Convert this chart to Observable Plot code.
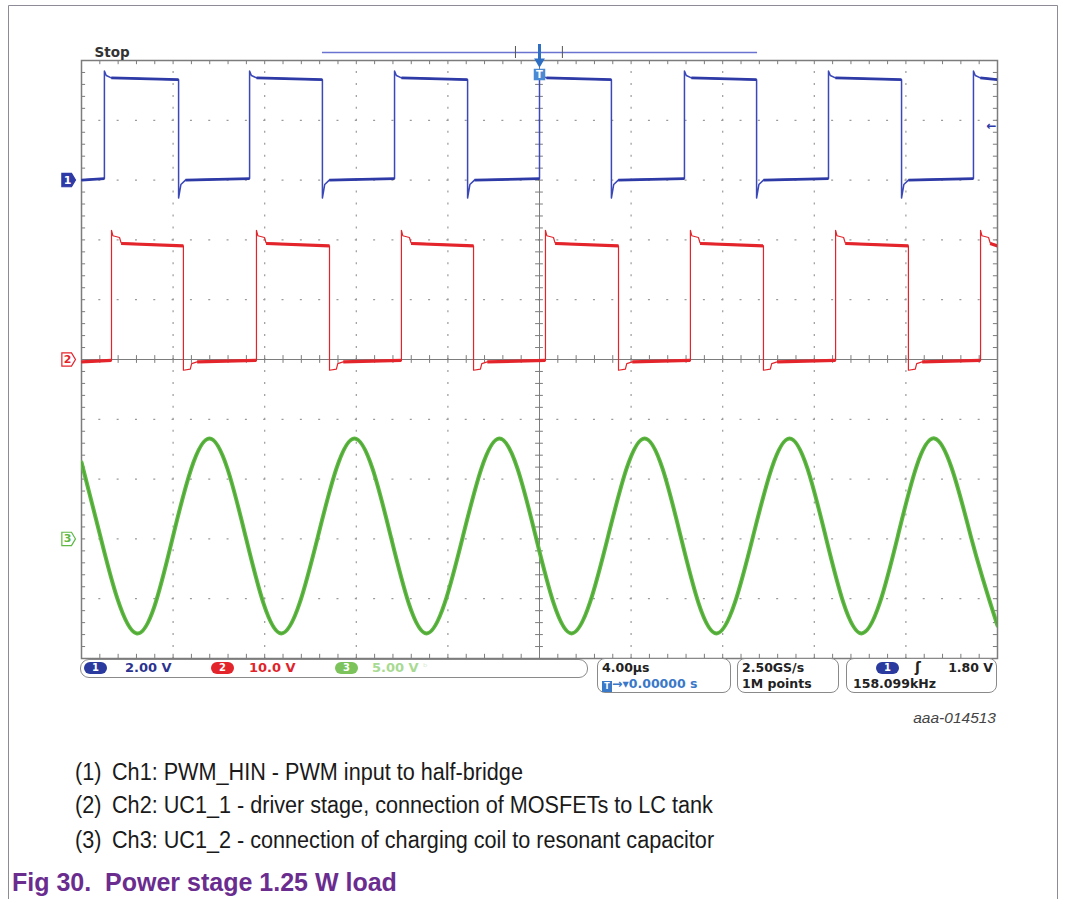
<!DOCTYPE html>
<html>
<head>
<meta charset="utf-8">
<script src="https://cdn.jsdelivr.net/npm/d3@7"></script>
<script src="https://cdn.jsdelivr.net/npm/@observablehq/plot@0.6"></script>
<style>
  html, body { margin: 0; padding: 0; background: #fff; }
  #page { position: relative; width: 1065px; height: 899px; overflow: hidden; background: #fff; }
  #page > svg, #chart svg { position: absolute; left: 0; top: 0; }
  .abs { position: absolute; white-space: nowrap; }
  .sbox { position: absolute; border: 1.5px solid #8a8a8a; border-radius: 8px; background: #fff; box-sizing: border-box; }
  .stxt { position: absolute; font-family: "DejaVu Sans", Verdana, sans-serif; font-size: 12.5px; font-weight: bold; white-space: nowrap; line-height: 14px; }
  .pill { position: absolute; height: 12px; border-radius: 6px; color: #fff; font-family: "DejaVu Sans", sans-serif; font-size: 10px; font-weight: bold; text-align: center; line-height: 12px; }
  .cap { position: absolute; font-family: "Liberation Sans", Arial, sans-serif; color: #1a1a1a; white-space: nowrap; transform-origin: 0 0; }
</style>
</head>
<body>
<div id="page">
  <div id="chart"></div>
</div>
<script>
// ---------- data ----------
// time axis: 4.00 µs/div, 10 divisions, trigger at 0
const timeTicks = [-20, -16, -12, -8, -4, 0, 4, 8, 12, 16, 20];   // µs
const channels = ["1", "2", "3"];
const voltsPerDiv = [2, 10, 5];          // V/div for Ch1, Ch2, Ch3
const groundDiv = [3, 0, -3];            // ground marker position (divisions)
const channelColors = ["#2e3aa6", "#e3242b", "#5fb843"];

// Ch1 : PWM_HIN (square wave)
const ch1Rise = [-19.0, -12.66, -6.33, 0.0, 6.33, 12.62, 18.95];   // µs
const ch1Fall = [-15.76, -9.48, -3.14, 3.14, 9.48, 15.81];          // µs
const ch1RiseShape = [[0, 3.65], [0.08, 3.5], [0.3, 3.42]];         // [dt µs, V] after rising edge
const ch1FallShape = [[0, -0.6], [0.1, -0.15], [0.3, 0.0]];         // [dt µs, V] after falling edge
const ch1High = [3.42, 3.36];   // start / end of high plateau (V)
const ch1Low = [0.0, 0.05];     // start / end of low plateau (V)

// Ch2 : UC1_1 (half-bridge output)
const ch2Rise = [-18.69, -12.36, -6.03, 0.26, 6.59, 12.93, 19.26];
const ch2Fall = [-15.55, -9.17, -2.88, 3.45, 9.78, 16.11];
const ch2RiseShape = [[0, 21.6], [0.06, 20.7], [0.35, 20.4], [0.42, 19.5]];
const ch2FallShape = [[0, -1.8], [0.3, -1.6], [0.36, -0.7], [0.6, -0.4]];
const ch2High = [19.4, 19.0];
const ch2Low = [-0.4, -0.15];

// Ch3 : UC1_2 (resonant capacitor voltage) — peaks, troughs and mid crossings
const ch3T = [-20, -19.18, -17.6, -16.0, -14.41, -12.84, -11.27, -9.67, -8.08, -6.5, -4.93, -3.34, -1.75,
              -0.17, 1.4, 3.0, 4.59, 6.16, 7.73, 9.33, 10.92, 12.49, 14.06, 15.65, 17.25, 18.83, 20];
const ch3V = [6.4, 0.25, -7.9, 0.25, 8.4, 0.25, -7.9, 0.25, 8.4, 0.25, -7.9, 0.25, 8.4,
              0.25, -7.9, 0.25, 8.4, 0.25, -7.9, 0.25, 8.4, 0.25, -7.9, 0.25, 8.4, 0.25, -7.25];

const triggerLevel = 1.80;     // V on Ch1
const recordWindow = [-9.5, 9.5];  // µs, top record bar
const recordBrackets = [-1.05, 1.0];

// ---------- build tables ----------
function toDiv(ch, v) { return groundDiv[ch] + v / voltsPerDiv[ch]; }

function squareWave(ch, rises, falls, riseShape, fallShape, high, low) {
  const edges = [...rises.map(t => ({t, up: true})), ...falls.map(t => ({t, up: false}))]
    .sort((a, b) => a.t - b.t);
  const pts = [];
  const segs = [];
  let level = edges[0].up ? low : high;
  let segStart = -20;
  pts.push({t: -20, v: level[0]});
  edges.forEach((e) => {
    const prev = e.up ? low : high;
    pts.push({t: e.t, v: prev[1]});
    segs.push({x1: segStart, x2: e.t, y1: prev[0], y2: prev[1]});
    const shape = e.up ? riseShape : fallShape;
    for (const [dt, v] of shape) pts.push({t: e.t + dt, v});
    segStart = e.t + shape[shape.length - 1][0];
    level = e.up ? high : low;
  });
  pts.push({t: 20, v: level[1]});
  segs.push({x1: segStart, x2: 20, y1: level[0], y2: level[1]});
  return {
    pts: pts.map(p => ({t: p.t, y: toDiv(ch, p.v)})),
    segs: segs.map(s => ({x1: s.x1, x2: s.x2, y1: toDiv(ch, s.y1), y2: toDiv(ch, s.y2)}))
  };
}

const w1 = squareWave(0, ch1Rise, ch1Fall, ch1RiseShape, ch1FallShape, ch1High, ch1Low);
const w2 = squareWave(1, ch2Rise, ch2Fall, ch2RiseShape, ch2FallShape, ch2High, ch2Low);
const w3 = ch3T.map((t, i) => ({t, y: toDiv(2, ch3V[i])}));

const markers = channels.map((c, i) => ({label: c, y: groundDiv[i], color: channelColors[i], filled: i === 0}));

const minorX = d3.range(0, 51).map(i => -20 + i * 0.8);
const minorY = d3.range(0, 51).map(i => -5 + i * 0.2);
const gridX = timeTicks.filter(t => t !== 0 && Math.abs(t) !== 20);
const gridY = d3.range(-4, 5).filter(d => d !== 0);

const tagSymbol = {
  draw(ctx, size) {
    const s = Math.sqrt(size) / 2;
    ctx.moveTo(-s, -s);
    ctx.lineTo(s * 0.45, -s);
    ctx.lineTo(s * 1.05, 0);
    ctx.lineTo(s * 0.45, s);
    ctx.lineTo(-s, s);
    ctx.closePath();
  }
};

const gridColor = "#9a9a9a";
const frameColor = "#7c7c7c";

const chart = Plot.plot({
  width: 1065,
  height: 740,
  marginLeft: 81,
  marginRight: 68,
  marginTop: 60,
  marginBottom: 82,
  x: {domain: [-20, 20], axis: null},
  y: {domain: [-5, 5], axis: null},
  style: {background: "transparent", overflow: "visible"},
  marks: [
    // dotted graticule
    Plot.ruleX(gridX, {stroke: gridColor, strokeWidth: 1.2, strokeDasharray: "2,9.96", strokeDashoffset: 1}),
    Plot.ruleY(gridY, {stroke: gridColor, strokeWidth: 1.2, strokeDasharray: "2,16.32", strokeDashoffset: 1}),
    // centre cross
    Plot.ruleX([0], {stroke: frameColor, strokeWidth: 1}),
    Plot.ruleY([0], {stroke: frameColor, strokeWidth: 1}),
    Plot.ruleY(minorY, {y: d => d, x1: -0.17, x2: 0.17, stroke: frameColor}),
    Plot.ruleX(minorX, {x: d => d, y1: -0.065, y2: 0.065, stroke: frameColor}),
    // frame ticks
    Plot.ruleX(minorX, {x: d => d, y1: 5, y2: 4.93, stroke: frameColor}),
    Plot.ruleX(minorX, {x: d => d, y1: -5, y2: -4.93, stroke: frameColor}),
    Plot.ruleY(minorY, {y: d => d, x1: -20, x2: -19.82, stroke: frameColor}),
    Plot.ruleY(minorY, {y: d => d, x1: 20, x2: 19.82, stroke: frameColor}),
    Plot.frame({stroke: frameColor, strokeWidth: 1.5}),

    // Ch3 sine
    Plot.line(w3, {x: "t", y: "y", curve: "natural", stroke: channelColors[2], strokeWidth: 4, clip: true}),
    Plot.line(w3, {x: "t", y: "y", curve: "natural", stroke: "#3f9628", strokeWidth: 1.2, strokeOpacity: 0.55, clip: true}),

    // Ch2
    Plot.line(w2.pts, {x: "t", y: "y", stroke: channelColors[1], strokeWidth: 1.2, clip: true}),
    Plot.link(w2.segs, {x1: "x1", x2: "x2", y1: "y1", y2: "y2", stroke: channelColors[1], strokeWidth: 3.2, clip: true}),

    // Ch1
    Plot.line(w1.pts, {x: "t", y: "y", stroke: "#3b48b8", strokeWidth: 1.5, clip: true}),
    Plot.link(w1.segs, {x1: "x1", x2: "x2", y1: "y1", y2: "y2", stroke: channelColors[0], strokeWidth: 2.8, clip: true}),

    // channel ground markers
    Plot.dot(markers, {x: -20, y: "y", dx: -13, r: 7.5, symbol: tagSymbol,
      fill: d => d.filled ? d.color : "#fff", stroke: d => d.color, strokeWidth: 1.2}),
    Plot.text(markers, {x: -20, y: "y", dx: -14, text: "label", fill: d => d.filled ? "#fff" : d.color,
      fontSize: 11, fontWeight: "bold", fontFamily: "DejaVu Sans"}),

    // trigger level arrow (right edge)
    Plot.text([triggerLevel], {x: 20, y: d => toDiv(0, d), dx: -6, text: () => "←", fill: "#2e3aa6",
      fontSize: 12, fontWeight: "bold", fontFamily: "DejaVu Sans"}),

    // record bar at the top
    Plot.link([recordWindow], {x1: d => d[0], x2: d => d[1], y1: 5, y2: 5, dy: -8, stroke: "#6a74d0", strokeWidth: 1.5}),
    Plot.ruleX(recordBrackets, {x: d => d, y1: 5, y2: 5, dy: -8, stroke: "#555", insetTop: -6, insetBottom: -6}),
    Plot.text(["Stop"], {x: -20, y: 5, dx: 13, dy: -8, text: d => d, textAnchor: "start", fill: "#333",
      fontSize: 13.5, fontWeight: "bold", fontFamily: "DejaVu Sans"}),
    // trigger position marker (T) at top
    Plot.ruleX([0], {x: d => d, y1: 5, y2: 5, dy: -7, insetTop: -9, insetBottom: -7, stroke: "#2e6fc4", strokeWidth: 3}),
    Plot.dot([0], {x: d => d, y: 5, dy: 1, symbol: "triangle", r: 4, rotate: 180, fill: "#2e6fc4"}),
    Plot.dot([0], {x: d => d, y: 5, dy: 14, symbol: "square", r: 6.5, fill: "#4a8ad4"}),
    Plot.text([0], {x: d => d, y: 5, dy: 14, text: () => "T", fill: "#fff", fontSize: 10, fontWeight: "bold", fontFamily: "DejaVu Sans"})
  ]
});
document.getElementById("chart").appendChild(chart);

// ---------- status bar & captions (HTML below the graticule) ----------
const page = document.getElementById("page");
function el(cls, style, html) {
  const d = document.createElement("div");
  d.className = cls;
  Object.assign(d.style, style);
  if (html !== undefined) d.innerHTML = html;
  page.appendChild(d);
  return d;
}
const scaleLabels = voltsPerDiv.map(v => (v >= 10 ? v.toFixed(1) : v.toFixed(2)) + " V");
el("sbox", {left: "80px", top: "659px", width: "508px", height: "19px", borderRadius: "9px"});
const pillX = [84, 211, 335];
const labelX = [125, 249, 372];
const labelColors = ["#2b3390", "#e0242b", "#a8da92"];
const pillColors = ["#2a3a9e", "#e3242b", "#7cc35c"];
channels.forEach((c, i) => {
  el("pill", {left: pillX[i] + "px", top: "662px", width: "23px", background: pillColors[i]}, c);
  el("stxt", {left: labelX[i] + "px", top: "661px", color: labelColors[i], fontSize: "13px"}, scaleLabels[i]);
});
el("stxt", {left: "423px", top: "661px", color: "#d8ecd0", fontSize: "11px", fontWeight: "normal"}, "ᵇ");

el("sbox", {left: "597px", top: "658px", width: "134px", height: "35px"});
el("stxt", {left: "602px", top: "661px", color: "#222"}, "4.00µs");
el("stxt", {left: "602px", top: "677px", color: "#3a78c8"},
  '<span style="display:inline-block;width:10px;height:11px;background:#3a78c8;color:#fff;font-size:8px;line-height:11px;text-align:center;vertical-align:-1px">T</span>→▾0.00000 s');

el("sbox", {left: "737px", top: "658px", width: "102px", height: "35px"});
el("stxt", {left: "742px", top: "661px", color: "#222"}, "2.50GS/s");
el("stxt", {left: "742px", top: "677px", color: "#222"}, "1M points");

el("sbox", {left: "846px", top: "658px", width: "151px", height: "35px"});
el("pill", {left: "876px", top: "662px", width: "23px", background: pillColors[0]}, "1");
el("stxt", {left: "915px", top: "660px", color: "#222", fontSize: "14px"}, "ʃ");
el("stxt", {left: "942px", top: "661px", color: "#222", width: "51px", textAlign: "right"}, triggerLevel.toFixed(2) + " V");
el("stxt", {left: "853px", top: "677px", color: "#222"}, "158.099kHz");

// figure id
el("abs", {right: "69px", top: "709px", fontFamily: "'Liberation Sans', Arial, sans-serif", fontStyle: "italic",
  fontSize: "15.5px", color: "#444"}, "aaa-014513");

// notes
const notes = [
  ["(1)", "Ch1: PWM_HIN - PWM input to half-bridge"],
  ["(2)", "Ch2: UC1_1 - driver stage, connection of MOSFETs to LC tank"],
  ["(3)", "Ch3: UC1_2 - connection of charging coil to resonant capacitor"]
];
const noteTops = [761, 794, 829];
notes.forEach(([n, t], i) => {
  el("cap", {left: "75px", top: noteTops[i] + "px", fontSize: "23px", lineHeight: "23px", transform: "scaleX(0.94)"}, n);
  el("cap", {left: "112px", top: noteTops[i] + "px", fontSize: "23px", lineHeight: "23px", transform: "scaleX(0.94)"}, t);
});
el("cap", {left: "12px", top: "870px", fontSize: "25px", lineHeight: "25px", fontWeight: "bold", color: "#6a2d8f"},
  "Fig 30.&nbsp;&nbsp;Power stage 1.25 W load");

// page frame
const frame = d3.select(page).append("svg").attr("width", 1065).attr("height", 899)
  .style("position", "absolute").style("left", 0).style("top", 0).style("pointer-events", "none");
frame.append("path").attr("d", "M8.5,899 V5.5 H1057.5 V899").attr("fill", "none").attr("stroke", "#8e8a96").attr("stroke-width", 1);
</script>
</body>
</html>
